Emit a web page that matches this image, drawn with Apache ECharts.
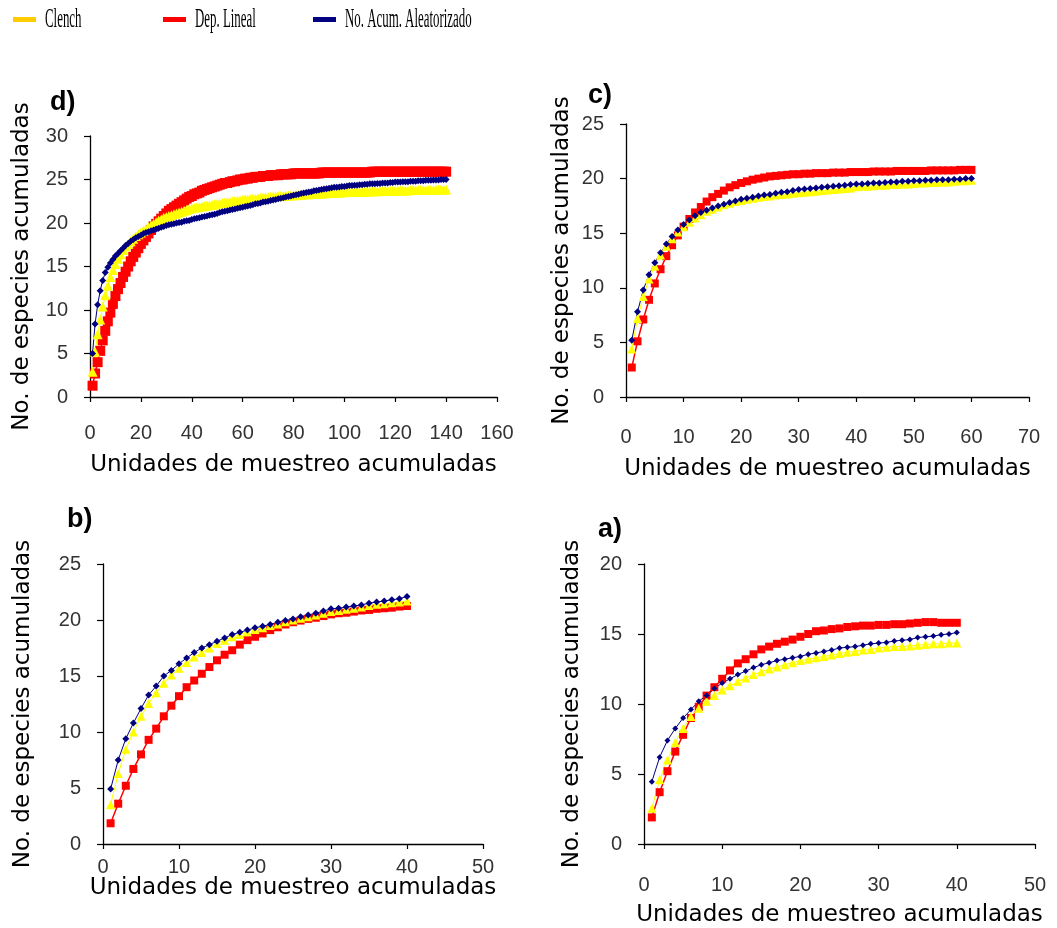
<!DOCTYPE html>
<html>
<head>
<meta charset="utf-8">
<script src="https://cdn.jsdelivr.net/npm/echarts@6/dist/echarts.min.js"></script>
<style>html,body{margin:0;padding:0;background:#fff}#chart{width:1057px;height:928px}</style>
</head>
<body>
<div id="chart"></div>
<script>
// ---- texts ----
const legendNames = ['Clench', 'Dep. Lineal', 'No. Acum. Aleatorizado'];
const panelLabels = ['d)', 'c)', 'b)', 'a)'];
const yTitle = 'No. de especies acumuladas';
const xTitle = 'Unidades de muestreo acumuladas';

// ---- axis ranges per panel (d, c, b, a) ----
const xMax = [160, 70, 50, 50];
const xStep = [20, 10, 10, 10];
const yMax = [30, 25, 25, 20];
const yStep = [5, 5, 5, 5];

// ---- panel d (140 sampling units) ----
const dClench = [2.9,5.2,7.2,8.9,10.4,11.7,12.8,13.8,14.6,15.3,15.9,16.4,16.9,17.3,17.6,17.9,18.2,18.5,18.7,18.9,
19.1,19.3,19.5,19.7,19.9,20.1,20.3,20.4,20.6,20.7,20.8,20.9,21.0,21.1,21.2,21.3,21.4,21.5,21.6,21.7,
21.75,21.8,21.85,21.9,21.95,22.0,22.05,22.1,22.15,22.2,22.25,22.3,22.35,22.4,22.45,22.5,22.55,22.6,22.6,22.65,
22.7,22.7,22.75,22.8,22.8,22.85,22.9,22.9,22.95,23.0,23.0,23.05,23.05,23.1,23.1,23.1,23.15,23.15,23.2,23.2,
23.2,23.25,23.25,23.3,23.3,23.3,23.35,23.35,23.35,23.4,23.4,23.4,23.45,23.45,23.45,23.5,23.5,23.5,23.5,23.55,
23.55,23.55,23.55,23.6,23.6,23.6,23.6,23.6,23.65,23.65,23.65,23.65,23.65,23.7,23.7,23.7,23.7,23.7,23.7,23.75,
23.75,23.75,23.75,23.75,23.75,23.8,23.8,23.8,23.8,23.8,23.8,23.8,23.8,23.8,23.8,23.85,23.85,23.85,23.85,23.85];
const dDep = [1.3,2.7,4.0,5.3,6.5,7.6,8.7,9.7,10.7,11.6,12.4,13.1,13.8,14.4,15.0,15.6,16.1,16.6,17.1,17.6,
18.0,18.4,18.8,19.2,19.6,19.9,20.2,20.5,20.8,21.1,21.4,21.6,21.8,22.0,22.2,22.4,22.6,22.8,23.0,23.1,
23.3,23.4,23.5,23.7,23.8,23.9,24.0,24.1,24.2,24.3,24.4,24.5,24.6,24.6,24.7,24.8,24.8,24.9,25.0,25.0,
25.1,25.1,25.2,25.2,25.3,25.3,25.3,25.4,25.4,25.4,25.5,25.5,25.5,25.5,25.6,25.6,25.6,25.6,25.6,25.7,
25.7,25.7,25.7,25.7,25.7,25.7,25.7,25.7,25.7,25.7,25.8,25.8,25.8,25.8,25.8,25.8,25.8,25.8,25.8,25.8,
25.8,25.8,25.8,25.8,25.8,25.8,25.8,25.8,25.8,25.8,25.9,25.9,25.9,25.9,25.9,25.9,25.9,25.9,25.9,25.9,
25.9,25.9,25.9,25.9,25.9,25.9,25.9,25.9,25.9,25.9,25.9,25.9,25.9,25.9,25.9,25.9,25.9,25.9,25.9,25.9];
const dAcum = [5.0,8.4,10.6,12.2,13.4,14.3,14.9,15.4,15.8,16.2,16.5,16.8,17.1,17.4,17.65,17.9,18.1,18.3,18.45,18.6,
18.8,18.9,19.0,19.1,19.2,19.3,19.4,19.5,19.6,19.7,19.8,19.85,19.9,20.0,20.05,20.1,20.2,20.25,20.3,20.4,
20.5,20.55,20.6,20.7,20.75,20.8,20.9,20.95,21.0,21.1,21.2,21.3,21.35,21.4,21.5,21.55,21.6,21.7,21.75,21.8,
21.9,21.95,22.0,22.1,22.2,22.25,22.3,22.4,22.45,22.5,22.6,22.65,22.7,22.8,22.85,22.9,23.0,23.05,23.1,23.2,
23.25,23.3,23.4,23.45,23.5,23.55,23.6,23.7,23.75,23.8,23.85,23.9,23.95,24.0,24.05,24.1,24.1,24.15,24.2,24.2,
24.25,24.3,24.3,24.35,24.35,24.4,24.4,24.45,24.45,24.5,24.5,24.5,24.55,24.55,24.6,24.6,24.6,24.65,24.65,24.7,
24.7,24.7,24.75,24.75,24.75,24.8,24.8,24.8,24.85,24.85,24.85,24.9,24.9,24.9,24.95,24.95,24.95,25.0,25.0,25.0];

// ---- panel c (60 units) ----
const cClench = [4.4,7.2,9.2,10.8,12.0,13.0,13.8,14.5,15.1,15.6,16.0,16.4,16.7,17.0,17.2,17.4,17.6,17.75,17.9,18.0,
18.1,18.2,18.3,18.35,18.4,18.5,18.55,18.6,18.65,18.7,18.75,18.8,18.85,18.9,18.95,19.0,19.05,19.1,19.15,19.25,
19.3,19.3,19.35,19.4,19.4,19.45,19.45,19.5,19.5,19.55,19.6,19.6,19.65,19.65,19.7,19.7,19.75,19.8,19.8,19.85];
const cDep = [2.7,5.1,7.1,8.9,10.4,11.7,12.9,13.9,14.8,15.6,16.3,16.9,17.4,17.9,18.3,18.6,18.9,19.2,19.4,19.6,
19.75,19.9,20.0,20.1,20.2,20.25,20.3,20.35,20.4,20.4,20.45,20.45,20.5,20.5,20.5,20.55,20.55,20.55,20.6,20.6,
20.6,20.6,20.65,20.65,20.65,20.65,20.7,20.7,20.7,20.7,20.7,20.7,20.75,20.75,20.75,20.75,20.75,20.8,20.8,20.8];
const cAcum = [5.2,7.8,9.8,11.2,12.3,13.2,14.0,14.7,15.3,15.8,16.2,16.6,16.9,17.1,17.3,17.5,17.65,17.8,17.95,18.1,
18.2,18.3,18.4,18.5,18.55,18.65,18.75,18.8,18.9,19.0,19.05,19.1,19.15,19.2,19.25,19.3,19.35,19.4,19.45,19.5,
19.5,19.55,19.6,19.6,19.65,19.7,19.7,19.75,19.75,19.8,19.8,19.85,19.85,19.9,19.9,19.9,19.95,19.95,20.0,20.0];

// ---- panel b (40 units) ----
const bClench = [3.5,6.3,8.45,10.0,11.4,12.55,13.5,14.35,15.1,15.7,16.2,16.7,17.1,17.5,17.9,18.2,18.5,18.7,18.95,19.15,
19.3,19.5,19.65,19.85,20.0,20.15,20.3,20.45,20.6,20.75,20.85,20.95,21.05,21.15,21.3,21.4,21.45,21.55,21.6,21.7];
const bDep = [1.85,3.6,5.2,6.7,8.0,9.3,10.3,11.4,12.35,13.2,14.0,14.6,15.2,15.8,16.4,16.9,17.3,17.8,18.2,18.5,
18.8,19.1,19.35,19.6,19.8,19.95,20.1,20.2,20.35,20.5,20.6,20.65,20.75,20.85,20.9,21.0,21.05,21.1,21.2,21.25];
const bAcum = [4.9,7.5,9.4,10.8,12.1,13.3,14.1,15.0,15.5,16.1,16.6,17.1,17.5,17.8,18.1,18.4,18.7,18.9,19.1,19.3,
19.45,19.6,19.8,19.95,20.1,20.3,20.45,20.6,20.8,21.0,21.05,21.15,21.25,21.35,21.5,21.6,21.7,21.8,21.9,22.1];

// ---- panel a (40 units) ----
const aClench = [2.55,4.6,6.0,7.25,8.25,9.1,9.7,10.2,10.6,11.0,11.3,11.6,11.85,12.1,12.3,12.5,12.65,12.8,12.95,13.1,
13.2,13.3,13.4,13.5,13.6,13.7,13.75,13.85,13.9,14.0,14.05,14.1,14.1,14.15,14.2,14.25,14.3,14.3,14.35,14.35];
const aDep = [1.9,3.7,5.2,6.6,7.8,9.0,9.8,10.6,11.2,11.8,12.4,12.9,13.2,13.55,13.9,14.1,14.3,14.45,14.6,14.8,
15.0,15.2,15.25,15.35,15.4,15.5,15.55,15.6,15.6,15.65,15.65,15.7,15.7,15.75,15.8,15.85,15.85,15.8,15.8,15.8];
const aAcum = [4.45,6.2,7.4,8.25,9.0,9.6,10.2,10.6,11.1,11.5,11.8,12.1,12.35,12.6,12.8,12.95,13.1,13.2,13.3,13.4,
13.55,13.65,13.75,13.85,14.0,14.05,14.1,14.2,14.3,14.35,14.4,14.5,14.55,14.6,14.75,14.8,14.85,14.95,15.0,15.1];

const panelData = [
  [dClench, dDep, dAcum],
  [cClench, cDep, cAcum],
  [bClench, bDep, bAcum],
  [aClench, aDep, aAcum]
];

// ---- layout / style ----
const grids = [
  {left: 90, top: 136, width: 407, height: 261},
  {left: 626, top: 124, width: 403, height: 273},
  {left: 103, top: 564, width: 380, height: 280},
  {left: 644, top: 564, width: 391, height: 280}
];
const yNameGap = [56, 52, 68, 60];
const xNameGap = [57, 61, 33, 60];
const xLabelMargin = [26, 30, 13, 31];
const labelPos = [[50, 89], [588, 82], [67, 506], [598, 516]];
const markerColors = ['#FFFF00', '#FF0000', '#000080'];
const legendColors = ['#FFCC00', '#FF0000', '#000080'];
const symbols = ['triangle', 'rect', 'diamond'];
const symSize = [[10, 10, 7], [9, 8, 7], [9, 8, 7], [9, 8, 6]];
const drawOrder = [1, 0, 2];

const axisFontTick = {fontSize: 20, fontFamily: 'Liberation Sans', color: '#333'};
const axisNameStyle = {fontSize: 23, fontFamily: 'DejaVu Sans', color: '#000'};

const xAxes = [], yAxes = [], series = [], titles = [];
grids.forEach((g, p) => {
  xAxes.push({
    type: 'value', gridIndex: p, min: 0, max: xMax[p], interval: xStep[p],
    splitLine: {show: false},
    axisLine: {show: true, onZero: false, lineStyle: {color: '#000', width: 1.3}},
    axisTick: {show: true, inside: false, length: 5, lineStyle: {color: '#000', width: 1.2}},
    axisLabel: Object.assign({margin: xLabelMargin[p]}, axisFontTick),
    name: xTitle, nameLocation: 'middle', nameGap: xNameGap[p], nameMoveOverlap: false,
    nameTextStyle: axisNameStyle
  });
  yAxes.push({
    type: 'value', gridIndex: p, min: 0, max: yMax[p], interval: yStep[p],
    splitLine: {show: false},
    axisLine: {show: true, onZero: false, lineStyle: {color: '#000', width: 1.3}},
    axisTick: {show: true, inside: false, length: 6, lineStyle: {color: '#000', width: 1.2}},
    axisLabel: Object.assign({margin: 22}, axisFontTick),
    name: yTitle, nameLocation: 'middle', nameRotate: 90, nameGap: yNameGap[p], nameMoveOverlap: false,
    nameTextStyle: axisNameStyle
  });
  titles.push({
    text: panelLabels[p], left: labelPos[p][0], top: labelPos[p][1], padding: 0,
    textStyle: {fontSize: 27, fontWeight: 'bold', fontFamily: 'Liberation Sans', color: '#000'}
  });
  drawOrder.forEach(s => {
    series.push({
      name: legendNames[s], type: 'line', xAxisIndex: p, yAxisIndex: p,
      data: panelData[p][s].map((v, i) => [i + 1, v]),
      symbol: symbols[s], symbolSize: symSize[p][s], showAllSymbol: true,
      itemStyle: {color: markerColors[s]},
      lineStyle: {color: markerColors[s], width: s === 1 ? 1.5 : 1},
      animation: false, silent: true
    });
  });
});

// ---- legend drawn as graphic row (condensed serif text) ----
const legendX = [13, 163, 313];
const graphic = [];
legendNames.forEach((n, i) => {
  graphic.push({type: 'rect', shape: {x: legendX[i], y: 17, width: 23, height: 5}, style: {fill: legendColors[i]}});
  graphic.push({type: 'text', x: legendX[i] + 32, y: 20, scaleX: 0.46,
    style: {text: n, fontSize: 28, fontFamily: 'Liberation Serif', fill: '#000', verticalAlign: 'middle', align: 'left'}});
});

const chart = echarts.init(document.getElementById('chart'), null, {renderer: 'canvas'});
chart.setOption({
  backgroundColor: '#fff',
  animation: false,
  title: titles,
  grid: grids,
  xAxis: xAxes,
  yAxis: yAxes,
  series: series,
  graphic: graphic
});
</script>
</body>
</html>
